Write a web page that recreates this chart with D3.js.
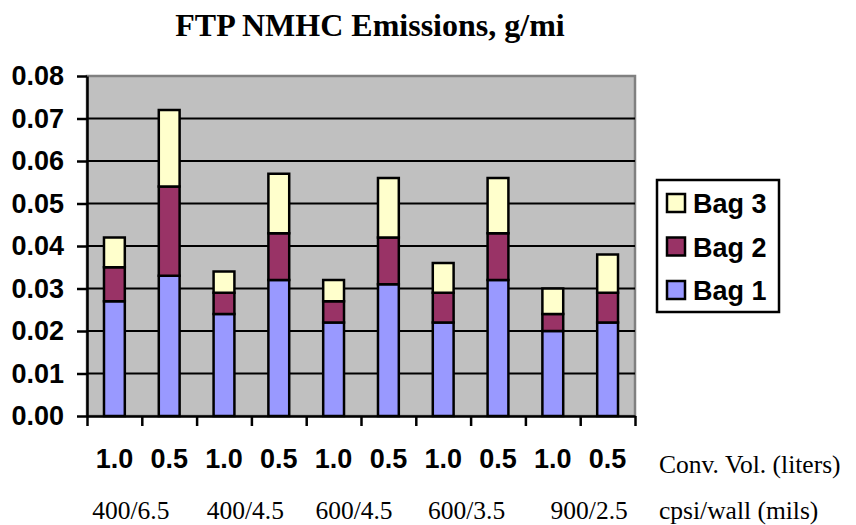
<!DOCTYPE html>
<html><head><meta charset="utf-8">
<script src="https://cdn.jsdelivr.net/npm/d3@7/dist/d3.min.js"></script>
<style>
body{margin:0;background:#fff;}
svg{display:block;}
</style></head>
<body><svg id="chart" width="856" height="525"></svg>
<script>
const cellGroups = ["400/6.5","400/4.5","600/4.5","600/3.5","900/2.5"];
const convVolumes = ["1.0","0.5"];
const seriesNames = ["Bag 1","Bag 2","Bag 3"];
const bag1 = [0.027,0.033,0.024,0.032,0.022,0.031,0.022,0.032,0.020,0.022];
const bag2 = [0.008,0.021,0.005,0.011,0.005,0.011,0.007,0.011,0.004,0.007];
const bag3 = [0.007,0.018,0.005,0.014,0.005,0.014,0.007,0.013,0.006,0.009];
const yTicks = [0,0.01,0.02,0.03,0.04,0.05,0.06,0.07,0.08];
const colors = ["#9999FF","#993366","#FFFFCC"];

const categories = cellGroups.flatMap(g => convVolumes.map(v => g + " " + v));
const rows = categories.map((c,i) => ({cat:c, vol:convVolumes[i%2], "Bag 1":bag1[i], "Bag 2":bag2[i], "Bag 3":bag3[i]}));

const svg = d3.select("#chart");
const L = 87, R = 635, T = 76, B = 416;

const x = d3.scaleBand().domain(categories).range([L,R]).padding(0);
const xEdge = d3.scaleLinear().domain([0,categories.length]).range([L,R]);
const y = d3.scaleLinear().domain([0,0.08]).range([B,T]);

// plot area
svg.append("rect").attr("x",L).attr("y",T).attr("width",R-L).attr("height",B-T)
  .attr("fill","#C0C0C0").attr("stroke","#808080").attr("stroke-width",2.5);

// gridlines
svg.append("g").selectAll("line").data(yTicks.filter(d => d>0 && d<0.08)).join("line")
  .attr("x1",L).attr("x2",R).attr("y1",d=>y(d)).attr("y2",d=>y(d))
  .attr("stroke","#000").attr("stroke-width",2);

// bars
const stack = d3.stack().keys(seriesNames)(rows);
const bw = x.bandwidth()*0.38;
svg.append("g").selectAll("g").data(stack).join("g")
  .attr("fill",(d,i)=>colors[i])
  .selectAll("rect").data(d=>d).join("rect")
  .attr("x",d=>x(d.data.cat)+x.bandwidth()/2-bw/2)
  .attr("width",bw)
  .attr("y",d=>y(d[1]))
  .attr("height",d=>y(d[0])-y(d[1]))
  .attr("stroke","#000").attr("stroke-width",2.5);

// y axis
const yAxis = svg.append("g").attr("transform",`translate(${L},0)`)
  .call(d3.axisLeft(y).tickValues(yTicks).tickFormat(d3.format(".2f")).tickSize(10).tickSizeOuter(0).tickPadding(13));
yAxis.selectAll("path,line").attr("stroke","#000").attr("stroke-width",2.5);
yAxis.selectAll("text").attr("font-family","Liberation Sans, Arial, sans-serif")
  .attr("font-weight","bold").attr("font-size","27px").attr("fill","#000");

// x axis (ticks at category edges)
const xAxis = svg.append("g").attr("transform",`translate(0,${B})`)
  .call(d3.axisBottom(xEdge).ticks(categories.length).tickFormat("").tickSize(10).tickSizeOuter(0));
xAxis.selectAll("path,line").attr("stroke","#000").attr("stroke-width",2.5);

// category labels
svg.append("g").selectAll("text").data(rows).join("text")
  .attr("x",d=>x(d.cat)+x.bandwidth()/2).attr("y",468)
  .attr("text-anchor","middle")
  .attr("font-family","Liberation Sans, Arial, sans-serif").attr("font-weight","bold").attr("font-size","27px")
  .text(d=>d.vol);

const groupShift = [-11,-6,-7,-4,9];
svg.append("g").selectAll("text").data(cellGroups).join("text")
  .attr("x",(d,i)=>xEdge(i*2+1)+groupShift[i]).attr("y",519)
  .attr("text-anchor","middle")
  .attr("font-family","Liberation Serif, Times New Roman, serif").attr("font-size","25.5px")
  .text(d=>d);

svg.append("text").attr("x",659).attr("y",473)
  .attr("font-family","Liberation Serif, Times New Roman, serif").attr("font-size","25.5px")
  .text("Conv. Vol. (liters)");
svg.append("text").attr("x",659).attr("y",519)
  .attr("font-family","Liberation Serif, Times New Roman, serif").attr("font-size","25.5px")
  .text("cpsi/wall (mils)");

// title
svg.append("text").attr("x",370).attr("y",36).attr("text-anchor","middle")
  .attr("font-family","Liberation Serif, Times New Roman, serif").attr("font-weight","bold").attr("font-size","32px")
  .text("FTP NMHC Emissions, g/mi");

// legend
const lg = svg.append("g");
lg.append("rect").attr("x",657).attr("y",180).attr("width",122).attr("height",132)
  .attr("fill","#fff").attr("stroke","#000").attr("stroke-width",2.5);
const legendItems = seriesNames.map((n,i)=>({name:n, color:colors[i]})).reverse();
const li = lg.selectAll("g.item").data(legendItems).join("g").attr("class","item")
  .attr("transform",(d,i)=>`translate(667,${194+i*43.5})`);
li.append("rect").attr("width",18).attr("height",18).attr("fill",d=>d.color)
  .attr("stroke","#000").attr("stroke-width",2.5);
li.append("text").attr("x",26).attr("y",19)
  .attr("font-family","Liberation Sans, Arial, sans-serif").attr("font-weight","bold").attr("font-size","27px")
  .text(d=>d.name);
</script>
</body></html>
